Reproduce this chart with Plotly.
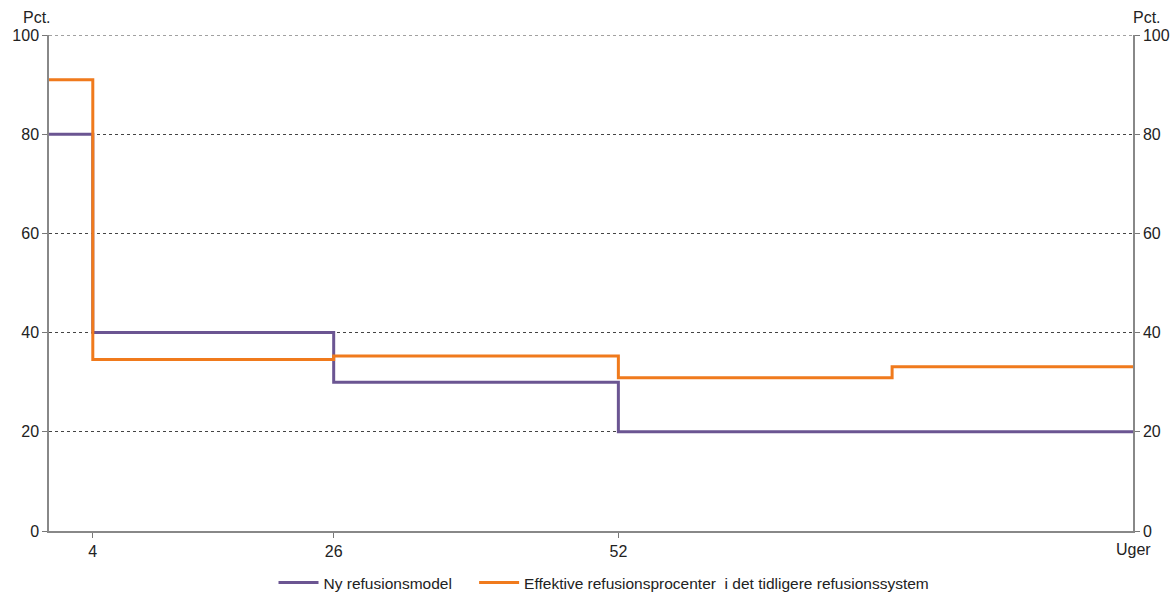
import plotly.graph_objects as go

# Data (weeks, percent)
weeks_ny = [0, 4, 26, 52, 99]
pct_ny = [80, 40, 30, 20, 20]
weeks_eff = [0, 4, 26, 52, 77, 99]
pct_eff = [91, 34.6, 35.3, 30.9, 33.1, 33.1]
y_ticks = [0, 20, 40, 60, 80, 100]
x_ticks = [4, 26, 52]

name_ny = "Ny refusionsmodel\u00a0\u00a0\u00a0\u00a0"
name_eff = "Effektive refusionsprocenter\u00a0 i det tidligere refusionssystem"

PURPLE = "#6b5592"
ORANGE = "#f07a1c"
FONT = "Liberation Sans, Arial, sans-serif"

fig = go.Figure()
fig.add_trace(go.Scatter(x=weeks_ny, y=pct_ny, mode="lines", line_shape="hv",
                         line=dict(color=PURPLE, width=3), name=name_ny))
fig.add_trace(go.Scatter(x=weeks_eff, y=pct_eff, mode="lines", line_shape="hv",
                         line=dict(color=ORANGE, width=3), name=name_eff))
# empty trace so the right-hand axis is drawn
fig.add_trace(go.Scatter(x=[None], y=[None], yaxis="y2", showlegend=False,
                         hoverinfo="skip", mode="lines"))

fig.update_layout(
    width=1175, height=594,
    margin=dict(l=49, r=42, t=35, b=63),
    paper_bgcolor="white", plot_bgcolor="white",
    font=dict(family=FONT, size=16, color="#222"),
    showlegend=True,
    legend=dict(orientation="h", x=0.512, xanchor="center",
                yref="container", y=(594 - 583) / 594, yanchor="middle",
                font=dict(size=15.5, color="#222"), itemwidth=40, tracegroupgap=0),
    xaxis=dict(range=[0, 99], tickvals=x_ticks, ticks="outside", ticklen=5,
               tickcolor="#777", showgrid=False, showline=True, linecolor="#888",
               linewidth=1.5, zeroline=False, tickfont=dict(size=16), automargin=False),
    yaxis=dict(range=[0, 100], tickvals=y_ticks, ticks="outside", ticklen=5,
               tickcolor="#777", showgrid=True, gridcolor="#444", griddash="3px,3px",
               gridwidth=1, showline=True, linecolor="#888", linewidth=1.5,
               zeroline=False, tickfont=dict(size=16), automargin=False),
    yaxis2=dict(range=[0, 100], tickvals=y_ticks, ticks="outside", ticklen=5,
                tickcolor="#777", overlaying="y", side="right", showgrid=False,
                showline=True, linecolor="#888", linewidth=1.5, zeroline=False,
                tickfont=dict(size=16), automargin=False),
)

# dashed line at the top (100)
fig.add_shape(type="line", xref="paper", yref="y", x0=0, x1=1, y0=100, y1=100,
              line=dict(color="#444", width=1, dash="3px,3px"), layer="below")

fig.add_annotation(text="Pct.", x=0, xref="paper", xanchor="center", xshift=-12,
                   y=1, yref="paper", yanchor="bottom", yshift=7, showarrow=False,
                   font=dict(size=16))
fig.add_annotation(text="Pct.", x=1, xref="paper", xanchor="center", xshift=14,
                   y=1, yref="paper", yanchor="bottom", yshift=7, showarrow=False,
                   font=dict(size=16))
fig.add_annotation(text="Uger", x=99, xref="x", xanchor="center", y=0, yref="paper",
                   yanchor="top", yshift=-8, showarrow=False, font=dict(size=16))

fig.write_html("out.html", config={"displayModeBar": False},
               post_script="document.body.style.margin='0';document.body.style.overflow='hidden';")
